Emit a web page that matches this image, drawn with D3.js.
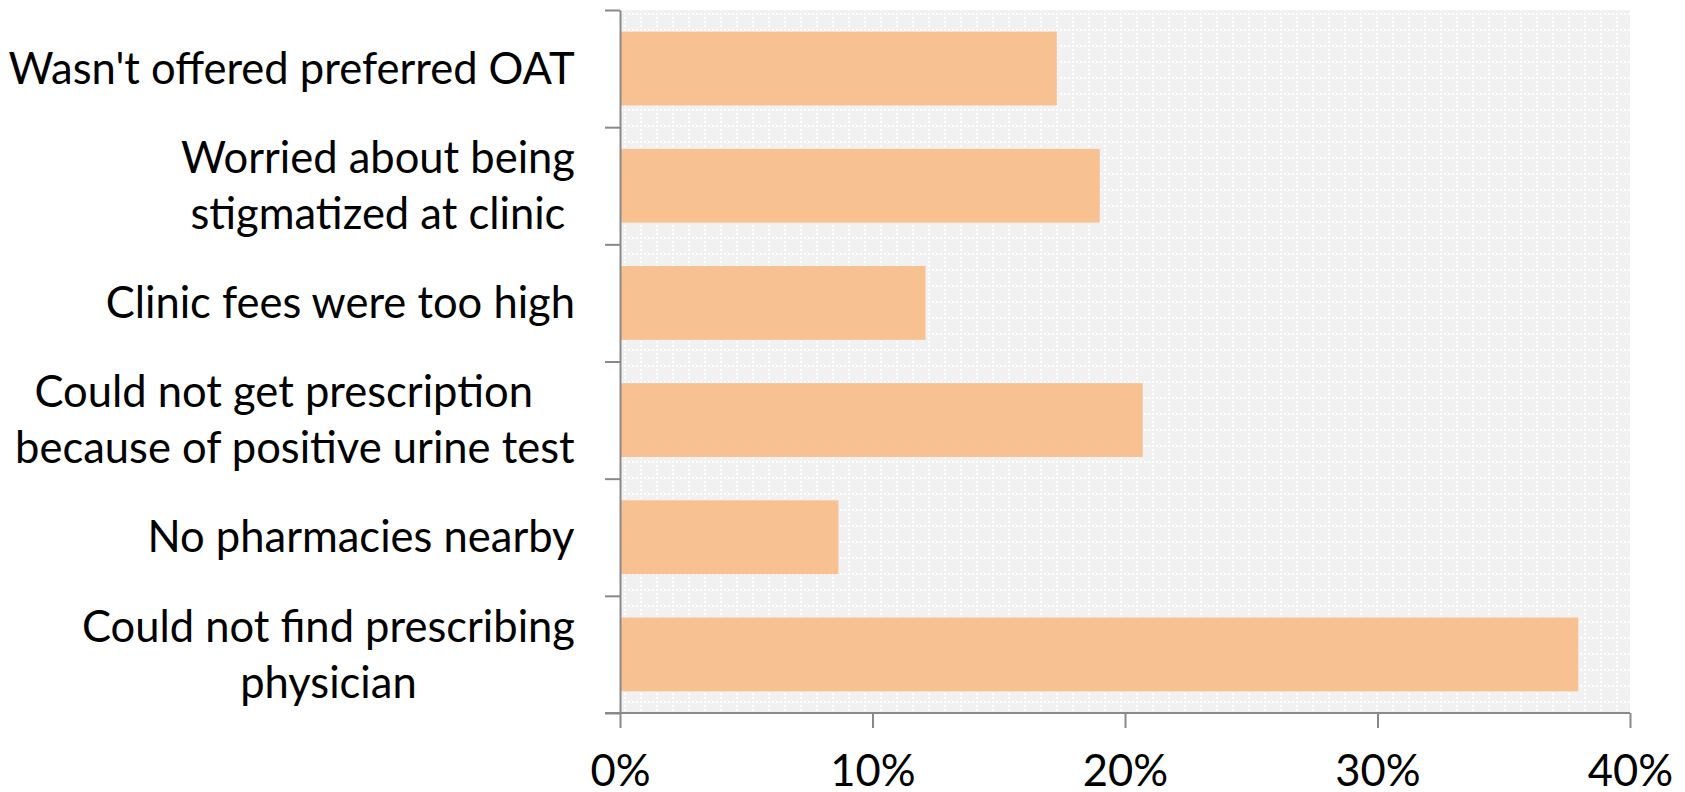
<!DOCTYPE html>
<html>
<head>
<meta charset="utf-8">
<script src="https://cdn.jsdelivr.net/npm/d3@7"></script>
<style>
body { margin: 0; background: #fff; }
text { font-family: Lato, "Open Sans", sans-serif; fill: #000; }
</style>
</head>
<body>
<div class="chart"></div>
<script>
// categories top to bottom, each label split into its wrapped lines
var categories = [
	["Wasn't offered preferred OAT"],
	["Worried about being", "stigmatized at clinic"],
	["Clinic fees were too high"],
	["Could not get prescription  ", "because of positive urine test"],
	["No pharmacies nearby"],
	["Could not find prescribing", "physician"]
];
var values = [0.173, 0.190, 0.121, 0.207, 0.0865, 0.3795];
var xTicks = [0, 0.1, 0.2, 0.3, 0.4];

var width = 1685, height = 792;
var plotL = 620, plotR = 1630, plotT = 10, plotB = 713;
var fontSize = 43.5;

var svg = d3.select(".chart").append("svg")
	.attr("width", width)
	.attr("height", height);

var x = d3.scaleLinear().domain([0, 0.4]).range([plotL, plotR]);
var y = d3.scaleBand().domain(d3.range(categories.length)).range([plotT, plotB]).paddingInner(0.37).paddingOuter(0.185);
var yEdge = d3.scaleLinear().domain([0, categories.length]).range([plotT, plotB]);

// dotted grid pattern of the plot area
var defs = svg.append("defs");
var pat = defs.append("pattern").attr("id", "grid")
	.attr("patternUnits", "userSpaceOnUse")
	.attr("x", plotL).attr("y", plotT + 3)
	.attr("width", 16).attr("height", 16);
pat.append("rect").attr("width", 16).attr("height", 16).attr("fill", "#f1f1f1");
pat.append("line").attr("x1", 0).attr("x2", 16).attr("y1", 1).attr("y2", 1)
	.attr("stroke", "#fff").attr("stroke-width", 2).attr("stroke-dasharray", "2,2");
pat.append("line").attr("x1", 5).attr("x2", 5).attr("y1", 0).attr("y2", 16)
	.attr("stroke", "#fff").attr("stroke-width", 2).attr("stroke-dasharray", "2,2");

svg.append("rect")
	.attr("x", plotL).attr("y", plotT)
	.attr("width", plotR - plotL).attr("height", plotB - plotT)
	.attr("fill", "url(#grid)");

svg.selectAll("rect.bar").data(values).enter().append("rect")
	.attr("class", "bar")
	.attr("x", x(0))
	.attr("y", function(d, i) { return y(i); })
	.attr("width", function(d) { return x(d) - x(0); })
	.attr("height", y.bandwidth())
	.attr("fill", "#f8c192");

// left axis with ticks on the band edges
var gy = svg.append("g").attr("transform", "translate(" + plotL + ",0)")
	.call(d3.axisLeft(yEdge).tickValues(d3.range(categories.length + 1)).tickFormat("").tickSize(15).tickSizeOuter(0));

var gx = svg.append("g").attr("transform", "translate(0," + plotB + ")")
	.call(d3.axisBottom(x).tickValues(xTicks).tickFormat(d3.format(".0%")).tickSize(15).tickSizeOuter(0));
gx.selectAll("text").attr("y", 73).attr("dy", null).attr("fill", "#000").style("font-size", fontSize + "px");
gx.select(".domain").attr("d", "M" + (plotL - 15) + ",0H" + plotR);

svg.selectAll(".domain, .tick line").attr("stroke", "#898989").attr("stroke-width", 2);

// category labels: lines centred to each other, block right aligned
var lineH = 56;
categories.forEach(function(lines, i) {
	var g = svg.append("g");
	var cy = y(i) + y.bandwidth() / 2;
	lines.forEach(function(t, j) {
		g.append("text")
			.attr("x", 0)
			.attr("y", cy + (j - (lines.length - 1) / 2) * lineH + fontSize * 0.35)
			.attr("text-anchor", "middle")
			.style("white-space", "pre")
			.style("font-size", fontSize + "px")
			.text(t);
	});
	var b = g.node().getBBox();
	g.attr("transform", "translate(" + (575 - (b.x + b.width)) + ",0)");
});
</script>
</body>
</html>
